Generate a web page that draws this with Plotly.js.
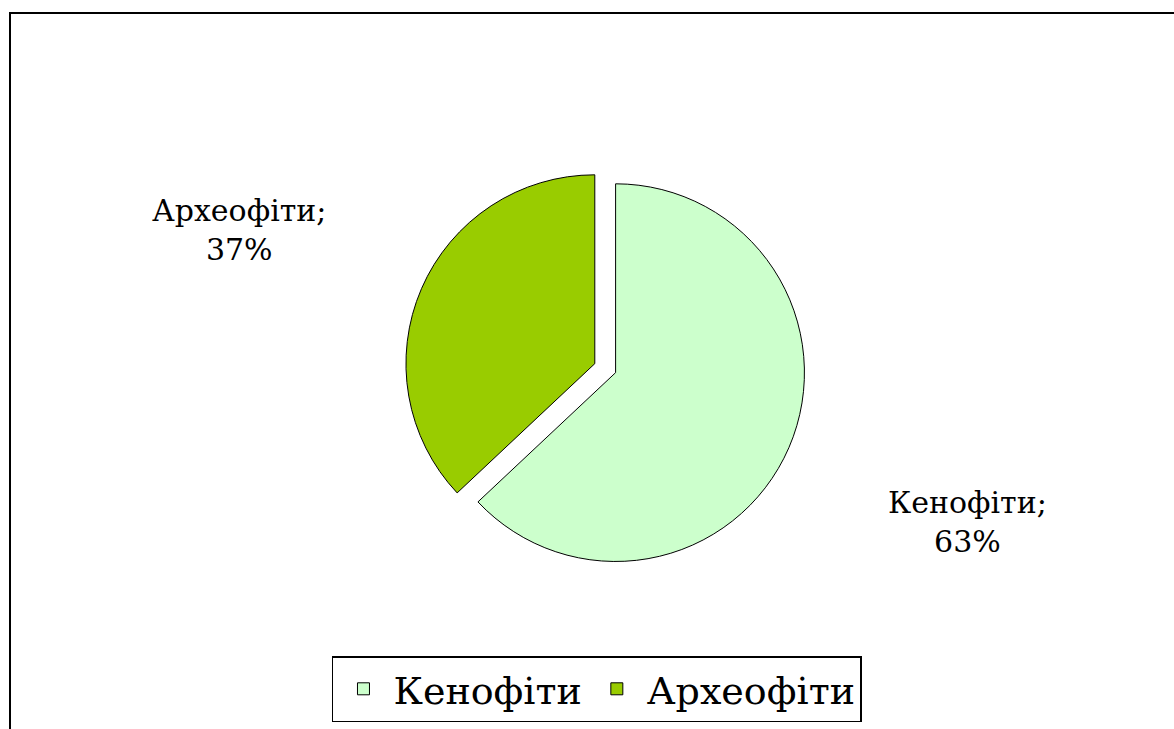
<!DOCTYPE html>
<html>
<head>
<meta charset="utf-8">
<script src="https://cdn.plot.ly/plotly-3.0.1.min.js"></script>
<style>
  html, body { margin: 0; padding: 0; background: #fff; overflow: hidden; }
  #chart { position: absolute; left: 0; top: 0; width: 1174px; height: 729px; }
  #frame { position: absolute; left: 9px; top: 12px; width: 1300px; height: 900px;
           border-top: 2px solid #000; border-left: 2px solid #000; pointer-events: none; }
</style>
</head>
<body>
<div id="chart"></div>
<div id="frame"></div>
<script>
const categories = ["Кенофіти", "Археофіти"];
const values = [63, 37];
const sliceColors = ["#CCFFCC", "#99CC00"];

const SERIF = "DejaVu Serif";
const total = values.reduce((a, b) => a + b, 0);
const labelText = categories.map((c, i) => c + ";<br>" + Math.round(values[i] / total * 100) + "%");

const trace = {
  type: "pie",
  labels: categories,
  values: values,
  sort: false,
  direction: "clockwise",
  rotation: 0,
  pull: [0.06, 0.06],
  marker: { colors: sliceColors, line: { color: "#000", width: 1 } },
  textinfo: "none",
  hoverinfo: "skip",
  domain: { x: [0.345, 0.686], y: [0.22, 0.77] }
};

const labelPos = [
  { x: 0.8237, y: 0.284 },
  { x: 0.2036, y: 0.6845 }
];

const layout = {
  width: 1174,
  height: 729,
  margin: { l: 0, r: 0, t: 0, b: 0 },
  paper_bgcolor: "#fff",
  showlegend: true,
  legend: {
    orientation: "h",
    x: 0.5085, xanchor: "center",
    y: 0.1, yanchor: "top",
    bgcolor: "#fff",
    bordercolor: "#000",
    borderwidth: 1.5,
    itemwidth: 50,
    font: { family: SERIF, size: 38, color: "#000" }
  },
  font: { family: SERIF },
  annotations: labelText.map((t, i) => ({
    text: t,
    xref: "paper", yref: "paper",
    x: labelPos[i].x, y: labelPos[i].y,
    xanchor: "center", yanchor: "middle",
    showarrow: false,
    align: "center",
    font: { family: SERIF, size: 30, color: "#000" }
  }))
};

Plotly.newPlot("chart", [trace], layout, { staticPlot: true, displayModeBar: false });
</script>
</body>
</html>
